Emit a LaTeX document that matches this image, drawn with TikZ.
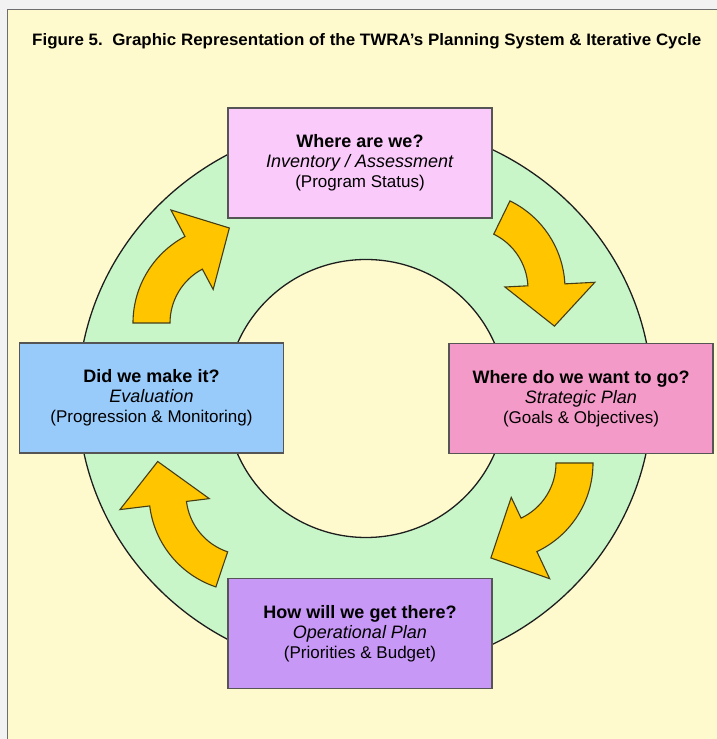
\documentclass[tikz,border=0pt]{standalone}
\usepackage{fontspec}
\setmainfont{Liberation Sans}
\usepackage{graphicx}
\usetikzlibrary{calc}

\definecolor{paper}{RGB}{255,250,205}
\definecolor{margin}{RGB}{242,242,242}
\definecolor{frameedge}{RGB}{110,110,110}
\definecolor{ringgreen}{RGB}{200,246,200}
\definecolor{ringedge}{RGB}{30,30,30}
\definecolor{arrowgold}{RGB}{255,198,0}
\definecolor{arrowedge}{RGB}{70,60,20}
\definecolor{boxedge}{RGB}{85,85,85}
\definecolor{statusfill}{RGB}{250,202,250}
\definecolor{strategyfill}{RGB}{244,154,200}
\definecolor{operationfill}{RGB}{200,152,246}
\definecolor{evalfill}{RGB}{152,202,250}

% curved block arrow: centre x, centre y (measured from the top),
% tail angle, angle of the head's base, angle of the tip
\newcommand\cyclearrow[5]{%
  \begin{scope}[shift={(#1,739-#2)}]
    \draw[goldarrow] (#3:98) arc[start angle=#3, end angle=#4, radius=98]
      -- (#4:128) -- (#5:95) -- (#4:38) -- (#4:61)
      arc[start angle=#4, end angle=#3, radius=61] -- cycle;
  \end{scope}}

\tikzset{
  goldarrow/.style={fill=arrowgold, draw=arrowedge, line width=1.1pt, line join=miter},
  ringline/.style={draw=ringedge, line width=1.3pt},
  stage/.style={draw=boxedge, line width=1.4pt, minimum width=264pt,
    minimum height=110pt, inner sep=0pt, align=center,
    font=\fontsize{18}{20}\selectfont, text=black},
  subline/.style={}
}

\begin{document}
\begin{tikzpicture}[x=1pt, y=1pt]
  \useasboundingbox (0,0) rectangle (717,739);
  \clip (0,0) rectangle (717,739);

  % page and frame
  \fill[margin] (0,0) rectangle (717,739);
  \draw[frameedge, line width=1pt, fill=paper] (7,-10) rectangle (730,729);

  % title
  \node[anchor=base west, inner sep=0pt] (title) at (32,739-45.5)
    {\resizebox{669pt}{12pt}{\bfseries Figure 5.\ \ Graphic Representation of the TWRA’s Planning System \& Iterative Cycle}};

  % ring
  \draw[ringline, fill=ringgreen] (365,739-397) ellipse [x radius=287, y radius=276];
  \draw[ringline, fill=paper] (366,739-398.5) ellipse [x radius=140, y radius=139];

  % arrows, clockwise round the cycle
  \cyclearrow{231}{323}{180}{118}{91}
  \cyclearrow{467}{289}{64}{3}{-23}
  \cyclearrow{495}{463}{0}{-64.7}{-92.5}
  \cyclearrow{247}{494}{251.5}{187}{160}

  % the four stages
  \node[stage, fill=statusfill] (status) at (360,739-163)
    {\textbf{Where are we?}\\\textit{Inventory / Assessment}\\{\fontsize{17}{20}\selectfont(Program Status)}};
  \node[stage, fill=strategyfill] (strategy) at (581,739-398.5)
    {\textbf{Where do we want to go?}\\\textit{Strategic Plan}\\{\fontsize{17}{20}\selectfont(Goals \& Objectives)}};
  \node[stage, fill=operationfill] (operation) at (360,739-633.5)
    {\textbf{How will we get there?}\\\textit{Operational Plan}\\{\fontsize{17}{20}\selectfont(Priorities \& Budget)}};
  \node[stage, fill=evalfill] (evaluation) at (151.5,739-398)
    {\textbf{Did we make it?}\\\textit{Evaluation}\\{\fontsize{17}{20}\selectfont(Progression \& Monitoring)}};
\end{tikzpicture}
\end{document}
